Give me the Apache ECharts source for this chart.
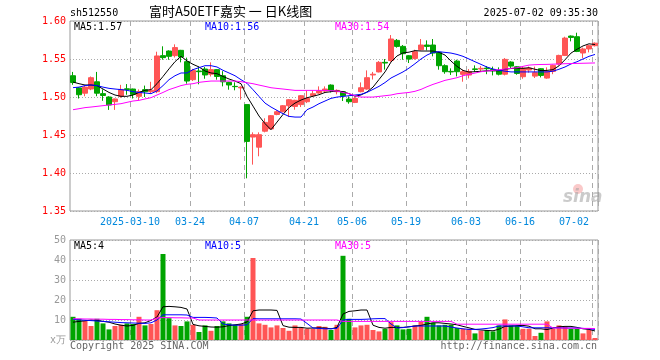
<!DOCTYPE html>
<html><head><meta charset="utf-8">
<script src="https://cdn.jsdelivr.net/npm/echarts@6/dist/echarts.min.js"></script>
<style>html,body{margin:0;padding:0;background:#fff}#c{width:660px;height:360px}</style>
</head><body><div id="c"></div>
<script>
const dates = ['2025-02-24','2025-02-25','2025-02-26','2025-02-27','2025-02-28','2025-03-03','2025-03-04','2025-03-05','2025-03-06','2025-03-07',
'2025-03-10','2025-03-11','2025-03-12','2025-03-13','2025-03-14','2025-03-17','2025-03-18','2025-03-19','2025-03-20','2025-03-21',
'2025-03-24','2025-03-25','2025-03-26','2025-03-27','2025-03-28','2025-03-31','2025-04-01','2025-04-02','2025-04-03','2025-04-07',
'2025-04-08','2025-04-09','2025-04-10','2025-04-11','2025-04-14','2025-04-15','2025-04-16','2025-04-17','2025-04-18','2025-04-21',
'2025-04-22','2025-04-23','2025-04-24','2025-04-25','2025-04-28','2025-04-29','2025-04-30','2025-05-06','2025-05-07','2025-05-08',
'2025-05-09','2025-05-12','2025-05-13','2025-05-14','2025-05-15','2025-05-16','2025-05-19','2025-05-20','2025-05-21','2025-05-22',
'2025-05-23','2025-05-26','2025-05-27','2025-05-28','2025-05-29','2025-05-30','2025-06-03','2025-06-04','2025-06-05','2025-06-06',
'2025-06-09','2025-06-10','2025-06-11','2025-06-12','2025-06-13','2025-06-16','2025-06-17','2025-06-18','2025-06-19','2025-06-20',
'2025-06-23','2025-06-24','2025-06-25','2025-06-26','2025-06-27','2025-06-30','2025-07-01','2025-07-02'];

const open = [1.528,1.512,1.505,1.5105,1.520,1.5044,1.500,1.4938,1.5009,1.5108,
1.5105,1.5009,1.5097,1.507,1.507,1.5544,1.5605,1.5544,1.5614,1.5465,
1.5228,1.5342,1.5368,1.530,1.536,1.528,1.5193,1.5140,1.512,1.490,
1.4473,1.434,1.455,1.458,1.477,1.4806,1.4885,1.4876,1.490,1.4938,
1.5017,1.5052,1.5078,1.5157,1.507,1.507,1.4973,1.4929,1.507,1.5105,
1.529,1.533,1.5456,1.548,1.5745,1.5666,1.5543,1.5508,1.5622,1.5684,
1.5684,1.5587,1.5412,1.5337,1.5473,1.5298,1.5289,1.537,1.5368,1.5381,
1.5363,1.5346,1.530,1.546,1.5398,1.5267,1.5355,1.5275,1.5372,1.5249,
1.5337,1.5433,1.5547,1.5802,1.5793,1.5579,1.5632,1.5675];
const high = [1.533,1.513,1.515,1.527,1.533,1.510,1.501,1.498,1.516,1.517,
1.511,1.510,1.515,1.520,1.5596,1.5667,1.5614,1.5693,1.562,1.5518,
1.537,1.540,1.5395,1.5456,1.5368,1.534,1.520,1.5193,1.514,1.490,
1.4535,1.4535,1.472,1.4763,1.4824,1.4894,1.4973,1.4964,1.5026,1.508,
1.5087,1.514,1.514,1.5166,1.510,1.5078,1.5008,1.4999,1.5192,1.535,
1.533,1.5473,1.550,1.5815,1.5763,1.5684,1.5552,1.5622,1.5763,1.5745,
1.5763,1.5596,1.543,1.5377,1.549,1.5359,1.5368,1.5416,1.5407,1.5407,
1.540,1.539,1.5512,1.547,1.5407,1.540,1.540,1.540,1.538,1.539,
1.5425,1.5556,1.5793,1.581,1.5846,1.565,1.5685,1.5718];
const low = [1.516,1.498,1.501,1.509,1.501,1.495,1.483,1.483,1.499,1.503,
1.498,1.496,1.500,1.505,1.505,1.5491,1.549,1.552,1.5456,1.5175,
1.521,1.5167,1.524,1.527,1.5228,1.514,1.5096,1.5088,1.4965,1.393,
1.411,1.422,1.4535,1.457,1.476,1.4798,1.4736,1.4833,1.4868,1.492,
1.4999,1.5043,1.5052,1.506,1.5035,1.4947,1.4912,1.492,1.5061,1.5096,
1.523,1.5324,1.536,1.5464,1.5649,1.549,1.5447,1.5491,1.5614,1.5614,
1.5535,1.5359,1.5306,1.529,1.5271,1.5201,1.5245,1.533,1.533,1.530,
1.5284,1.5284,1.5284,1.538,1.5293,1.524,1.532,1.525,1.5258,1.524,
1.530,1.5416,1.5539,1.5732,1.5591,1.551,1.5587,1.5665];
const close = [1.519,1.503,1.513,1.5254,1.505,1.502,1.4895,1.4974,1.510,1.5098,
1.5035,1.507,1.507,1.509,1.554,1.5518,1.5535,1.565,1.5526,1.521,
1.535,1.5333,1.529,1.536,1.527,1.520,1.5158,1.5136,1.513,1.4416,
1.4504,1.4504,1.4666,1.4754,1.4806,1.4885,1.4964,1.4956,1.5017,1.4982,
1.5043,1.5078,1.5105,1.5087,1.5087,1.5017,1.4938,1.4982,1.5122,1.5254,
1.530,1.5456,1.5447,1.5763,1.5666,1.557,1.5499,1.5596,1.5684,1.5666,
1.5578,1.5412,1.5333,1.5330,1.5333,1.5333,1.5335,1.5363,1.5377,1.5372,
1.5346,1.530,1.5495,1.5407,1.531,1.538,1.538,1.532,1.5284,1.5337,
1.5416,1.5547,1.5775,1.5784,1.560,1.5632,1.5675,1.5708];

const ma5 = [1.5197,1.5175,1.5158,1.5158,1.515,1.5105,1.506,1.5026,1.5009,1.5009,
1.5026,1.506,1.5088,1.5097,1.5175,1.527,1.537,1.5465,1.5535,1.5475,
1.543,1.5395,1.5342,1.5316,1.5307,1.527,1.5237,1.521,1.5175,1.5009,
1.488,1.475,1.465,1.457,1.467,1.477,1.486,1.492,1.496,1.499,
1.501,1.503,1.506,1.507,1.508,1.507,1.5044,1.501,1.5027,1.5066,
1.513,1.523,1.533,1.546,1.554,1.558,1.559,1.561,1.5605,1.5605,
1.5605,1.5587,1.5552,1.5473,1.5403,1.535,1.5328,1.5333,1.5338,1.5345,
1.5345,1.5345,1.5365,1.5375,1.538,1.5377,1.5385,1.5365,1.5347,1.535,
1.536,1.541,1.549,1.5578,1.5628,1.5672,1.570,1.569];
const ma10 = [1.5123,1.513,1.515,1.5158,1.515,1.513,1.5114,1.5105,1.5097,1.5088,
1.507,1.506,1.5053,1.5044,1.508,1.515,1.5228,1.528,1.5316,1.5316,
1.536,1.5386,1.5412,1.5412,1.5395,1.5351,1.5316,1.528,1.5228,1.5180,
1.5096,1.5008,1.492,1.4868,1.4824,1.478,1.4745,1.4736,1.4736,1.4833,
1.4868,1.4912,1.4947,1.4982,1.4999,1.5008,1.5017,1.5026,1.5035,1.5061,
1.510,1.514,1.519,1.525,1.529,1.533,1.538,1.5438,1.55,1.5552,
1.5587,1.5596,1.5587,1.5578,1.556,1.5535,1.55,1.5464,1.5429,1.5394,
1.5368,1.535,1.534,1.533,1.533,1.533,1.533,1.533,1.533,1.533,
1.534,1.5365,1.5395,1.5435,1.5464,1.55,1.5535,1.556];
const ma30 = [1.4833,1.4846,1.486,1.4868,1.4877,1.4886,1.4895,1.4903,1.4912,1.493,
1.4947,1.4956,1.4974,1.4991,1.5026,1.506,1.5097,1.5123,1.515,1.5167,
1.5175,1.5193,1.5202,1.521,1.521,1.521,1.521,1.521,1.5202,1.5188,
1.5175,1.5157,1.514,1.5122,1.5113,1.5105,1.5096,1.5087,1.5087,1.5087,
1.5087,1.5087,1.5087,1.5083,1.5078,1.506,1.5043,1.5017,1.4999,1.4999,
1.4999,1.5008,1.5017,1.5026,1.5043,1.5052,1.506,1.5075,1.5100,1.5135,
1.5166,1.5192,1.5219,1.5236,1.5254,1.528,1.5298,1.5315,1.5333,1.5342,
1.535,1.5359,1.5368,1.5377,1.5385,1.5403,1.542,1.5425,1.5428,1.5429,
1.5432,1.5435,1.5438,1.5440,1.5442,1.5444,1.5446,1.5448];

const volume = [11.6,10.6,9.6,7.0,10.6,8.3,5.3,7.0,7.6,8.3,
8.0,11.6,7.3,8.0,14.9,43.0,10.9,7.3,7.0,9.3,
7.6,4.0,7.3,4.6,7.0,9.3,8.3,7.6,8.0,11.6,
41.0,8.3,7.6,6.3,7.3,6.0,4.6,7.3,6.0,5.6,
5.6,7.0,6.6,5.0,7.6,42.1,10.6,6.3,7.3,7.6,
5.0,4.3,5.6,8.9,7.3,5.3,5.6,7.3,9.3,11.6,
8.6,7.3,7.6,7.6,6.0,5.6,5.6,3.3,4.6,5.0,
4.3,7.3,10.3,7.3,7.0,5.6,5.6,2.0,3.6,9.3,
5.6,7.3,6.6,5.6,5.6,3.3,5.3,1.0];
const volMa5 = [8.9,9.3,9.6,10.0,9.8,9.3,8.9,8.0,7.4,7.0,
7.3,8.3,8.6,9.8,11.5,16.6,16.8,16.6,16.3,15.5,
7.8,7.1,6.8,6.5,6.4,6.6,7.2,7.6,8.0,9.0,
14.6,15.0,15.0,15.0,14.8,7.2,6.4,6.3,6.3,5.9,
6.0,6.1,6.0,5.6,6.3,13.0,14.3,14.6,15.0,15.0,
7.4,6.3,5.9,6.3,6.3,6.3,6.6,7.0,7.3,8.0,
8.6,8.6,8.3,8.0,7.6,6.8,6.1,5.3,5.0,4.8,
4.6,5.4,6.8,6.9,7.2,7.3,6.9,5.6,5.6,5.2,
6.0,6.6,6.8,6.8,6.3,5.6,5.3,4.5];
const volMa10 = [10.3,10.1,9.9,9.7,9.5,9.3,9.1,8.9,8.7,8.6,
8.5,8.4,8.3,8.6,10.0,12.6,12.6,12.6,12.6,12.5,
11.3,11.3,11.3,11.2,11.0,8.0,7.6,7.4,7.4,7.6,
10.7,10.6,10.6,10.6,10.6,10.6,10.6,10.6,10.5,8.3,
6.0,5.8,5.6,5.6,5.8,10.0,10.3,10.3,10.3,10.4,
10.6,10.7,10.7,8.0,6.0,6.2,6.6,7.0,7.0,7.0,
7.0,7.0,7.0,6.5,6.0,5.6,5.3,5.3,5.5,5.8,
6.2,7.0,7.0,7.0,7.0,6.6,6.1,6.1,6.1,6.1,
6.1,6.1,6.0,6.0,6.0,5.8,5.6,5.3];
const volMa30 = [10.6,10.6,10.5,10.5,10.4,10.4,10.3,10.3,10.2,10.2,
10.1,10.1,10.0,10.0,11.0,11.2,11.2,11.1,11.1,11.0,
11.0,10.0,10.0,10.0,10.0,10.0,10.0,10.0,10.0,10.0,
10.0,10.0,10.0,10.0,10.0,10.0,10.0,10.0,10.0,10.0,
10.0,10.0,10.0,10.0,10.0,9.3,9.3,9.3,9.3,9.3,
9.3,9.3,9.3,9.3,9.3,9.3,9.3,9.3,9.3,9.3,
9.3,9.3,9.3,9.3,7.9,7.9,7.9,7.9,7.9,7.9,
7.9,7.9,7.9,7.9,7.9,7.9,7.9,7.9,7.9,7.9,
6.0,6.0,6.0,5.9,5.9,5.8,5.8,5.7];

const tickDates = ['2025-03-10','2025-03-24','2025-04-07','2025-04-21','2025-05-06','2025-05-19','2025-06-03','2025-06-16','2025-07-02'];
const priceMin = 1.35, priceMax = 1.60, priceStep = 0.05;
const volMax = 50, volStep = 10;

const UP = '#ff5555', DOWN = '#00a400';
const MONO = "'DejaVu Sans Mono', 'Liberation Mono', monospace";
const tickSet = new Set(tickDates);

const chart = echarts.init(document.getElementById('c'), null, {renderer: 'canvas'});
const kData = dates.map((d, i) => [open[i], close[i], low[i], high[i]]);
const volData = volume.map((v, i) => ({value: v, itemStyle: {color: close[i] >= open[i] ? UP : DOWN}}));
const vSplit = {show: true, interval: (i, v) => tickSet.has(v), lineStyle: {color: '#aaa', type: [5, 4], width: 1}};
const hSplit = {show: true, lineStyle: {color: '#aaa', type: [1, 2], width: 1}};
const lineS = (name, data, color, xi) => ({name, type: 'line', data, xAxisIndex: xi, yAxisIndex: xi, symbol: 'none',
  lineStyle: {width: 1, color}, itemStyle: {color}, silent: true, z: 5});

chart.setOption({
  animation: false,
  backgroundColor: '#fff',
  grid: [
    {left: 70, top: 21, width: 528, height: 190, show: true, borderColor: '#999', borderWidth: 1},
    {left: 70, top: 240, width: 528, height: 100, show: true, borderColor: '#999', borderWidth: 1}
  ],
  xAxis: [
    {type: 'category', gridIndex: 0, data: dates, boundaryGap: true,
     axisLine: {show: false}, axisTick: {show: false},
     axisLabel: {interval: (i, v) => tickSet.has(v), formatter: v => v === tickDates[0] ? v : v.slice(5),
       color: '#0088dd', fontFamily: MONO, fontSize: 10, margin: 6, padding: [0, 6, 0, 0], alignMaxLabel: 'right'},
     splitLine: vSplit},
    {type: 'category', gridIndex: 1, data: dates, boundaryGap: true,
     axisLine: {show: false}, axisTick: {show: false}, axisLabel: {show: false},
     splitLine: vSplit}
  ],
  yAxis: [
    {type: 'value', gridIndex: 0, min: priceMin, max: priceMax, interval: priceStep, scale: true,
     axisLine: {show: false}, axisTick: {show: false},
     axisLabel: {color: '#ff0000', fontFamily: MONO, fontSize: 10, margin: 4, formatter: v => v.toFixed(2)},
     splitLine: hSplit},
    {type: 'value', gridIndex: 1, min: 0, max: volMax, interval: volStep,
     axisLine: {show: false}, axisTick: {show: false},
     axisLabel: {color: '#999', fontFamily: MONO, fontSize: 10, margin: 4, formatter: v => v === 0 ? 'x万' : String(v)},
     splitLine: hSplit}
  ],
  series: [
    {name: 'K', type: 'candlestick', data: kData, xAxisIndex: 0, yAxisIndex: 0, barWidth: 5,
     itemStyle: {color: UP, color0: DOWN, borderColor: UP, borderColor0: DOWN, borderWidth: 1}, z: 3},
    lineS('MA5', ma5, '#000000', 0),
    lineS('MA10', ma10, '#0000ff', 0),
    lineS('MA30', ma30, '#ff00ff', 0),
    {name: 'VOL', type: 'bar', data: volData, xAxisIndex: 1, yAxisIndex: 1, barWidth: 5, z: 3},
    lineS('VMA5', volMa5, '#000000', 1),
    lineS('VMA10', volMa10, '#0000ff', 1),
    lineS('VMA30', volMa30, '#ff00ff', 1)
  ],
  graphic: [
    {type: 'text', left: 70, top: 8, style: {text: 'sh512550', font: "10px " + MONO, fill: '#000'}},
    {type: 'text', left: 149, top: 5, style: {text: '富时A50ETF嘉实 一 日K线图', font: "13px 'Noto Sans CJK SC'", fill: '#000'}},
    {type: 'text', right: 62, top: 8, style: {text: '2025-07-02 09:35:30', font: "10px " + MONO, fill: '#000'}},
    {type: 'text', left: 74, top: 22, style: {text: 'MA5:1.57', font: "10px " + MONO, fill: '#000'}, z: 10},
    {type: 'text', left: 205, top: 22, style: {text: 'MA10:1.56', font: "10px " + MONO, fill: '#0000ff'}, z: 10},
    {type: 'text', left: 335, top: 22, style: {text: 'MA30:1.54', font: "10px " + MONO, fill: '#ff00ff'}, z: 10},
    {type: 'text', left: 74, top: 241, style: {text: 'MA5:4', font: "10px " + MONO, fill: '#000'}, z: 10},
    {type: 'text', left: 205, top: 241, style: {text: 'MA10:5', font: "10px " + MONO, fill: '#0000ff'}, z: 10},
    {type: 'text', left: 335, top: 241, style: {text: 'MA30:5', font: "10px " + MONO, fill: '#ff00ff'}, z: 10},
    {type: 'text', left: 70, top: 341, style: {text: 'Copyright 2025 SINA.COM', font: "10px " + MONO, fill: '#666'}},
    {type: 'text', right: 63, top: 341, style: {text: 'http://finance.sina.com.cn', font: "10px " + MONO, fill: '#666'}},
    {type: 'circle', shape: {cx: 578, cy: 189, r: 5}, style: {fill: 'rgba(240,100,100,0.35)'}, z: 1},
    {type: 'text', left: 563, top: 189, style: {text: 'sina', font: "italic bold 17px 'DejaVu Sans'", fill: 'rgba(160,160,160,0.55)'}, z: 1}
  ]
});
</script></body></html>
